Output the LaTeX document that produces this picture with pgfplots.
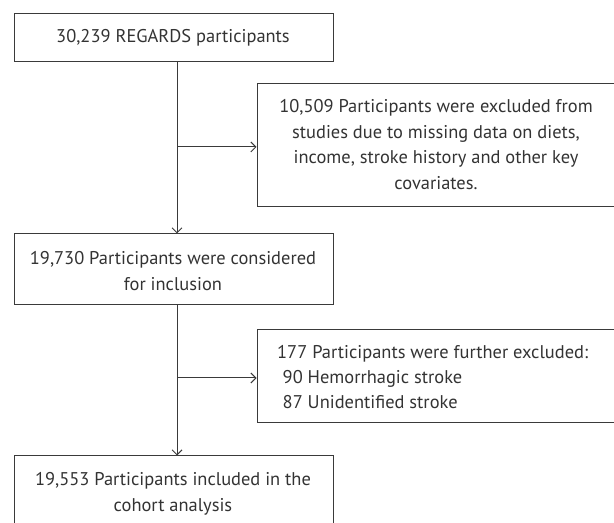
\documentclass[border=0pt]{standalone}
\usepackage{pgfplots}
\pgfplotsset{compat=1.18}
\usepackage{fontspec}
\setmainfont{PT Sans}
\usetikzlibrary{arrows.meta}
\definecolor{ln}{HTML}{3A3A3A}
\definecolor{tx}{HTML}{333333}
\begin{document}
\begin{tikzpicture}
\begin{axis}[
  x=1bp, y=1bp, scale only axis,
  xmin=0, xmax=614, ymin=0, ymax=523,
  axis lines=none, ticks=none, clip=true,
  cycle list={{ln, line width=1bp, mark=none}},
  no markers,
]
% boxes
\addplot+[ln, line width=1bp] coordinates {(14,509) (333,509) (333,461) (14,461) (14,509)};
\addplot+[ln, line width=1bp] coordinates {(620,439) (257,439) (257,316) (620,316)};
\addplot+[ln, line width=1bp] coordinates {(14,289) (333,289) (333,218) (14,218) (14,289)};
\addplot+[ln, line width=1bp] coordinates {(620,193) (257,193) (257,100) (620,100)};
\addplot+[ln, line width=1bp] coordinates {(14,-10) (14,67) (333,67) (333,-10)};
% connectors
\addplot+[ln, line width=1bp, -{Straight Barb[length=5bp,width=10bp]}] coordinates {(177,461) (177,289.5)};
\addplot+[ln, line width=1bp, -{Straight Barb[length=5bp,width=10bp]}] coordinates {(177,376) (256.5,376)};
\addplot+[ln, line width=1bp, -{Straight Barb[length=5bp,width=10bp]}] coordinates {(177,218) (177,67.5)};
\addplot+[ln, line width=1bp, -{Straight Barb[length=5bp,width=10bp]}] coordinates {(177,145) (256.5,145)};
% texts
\begin{scope}[every node/.style={text=tx, font=\fontsize{18.5}{25.5}\selectfont, inner sep=0pt}]
\node[align=center] at (axis cs:173,485) {30,239 REGARDS participants};
\node[align=center] at (axis cs:436,378.5) {10,509 Participants were excluded from\\studies due to missing data on diets,\\income, stroke history and other key\\covariates.};
\node[align=center] at (axis cs:173,252) {19,730 Participants were considered\\for inclusion};
\node[align=left, anchor=west] at (axis cs:277,146) {177 Participants were further excluded:\\\hspace{0.3em}90 Hemorrhagic stroke\\\hspace{0.3em}87 Unidentified stroke};
\node[align=center] at (axis cs:173,29) {19,553 Participants included in the\\cohort analysis};
\end{scope}
\end{axis}
\pgfresetboundingbox
\path (0,0) rectangle (614bp,523bp);
\end{tikzpicture}
\end{document}
